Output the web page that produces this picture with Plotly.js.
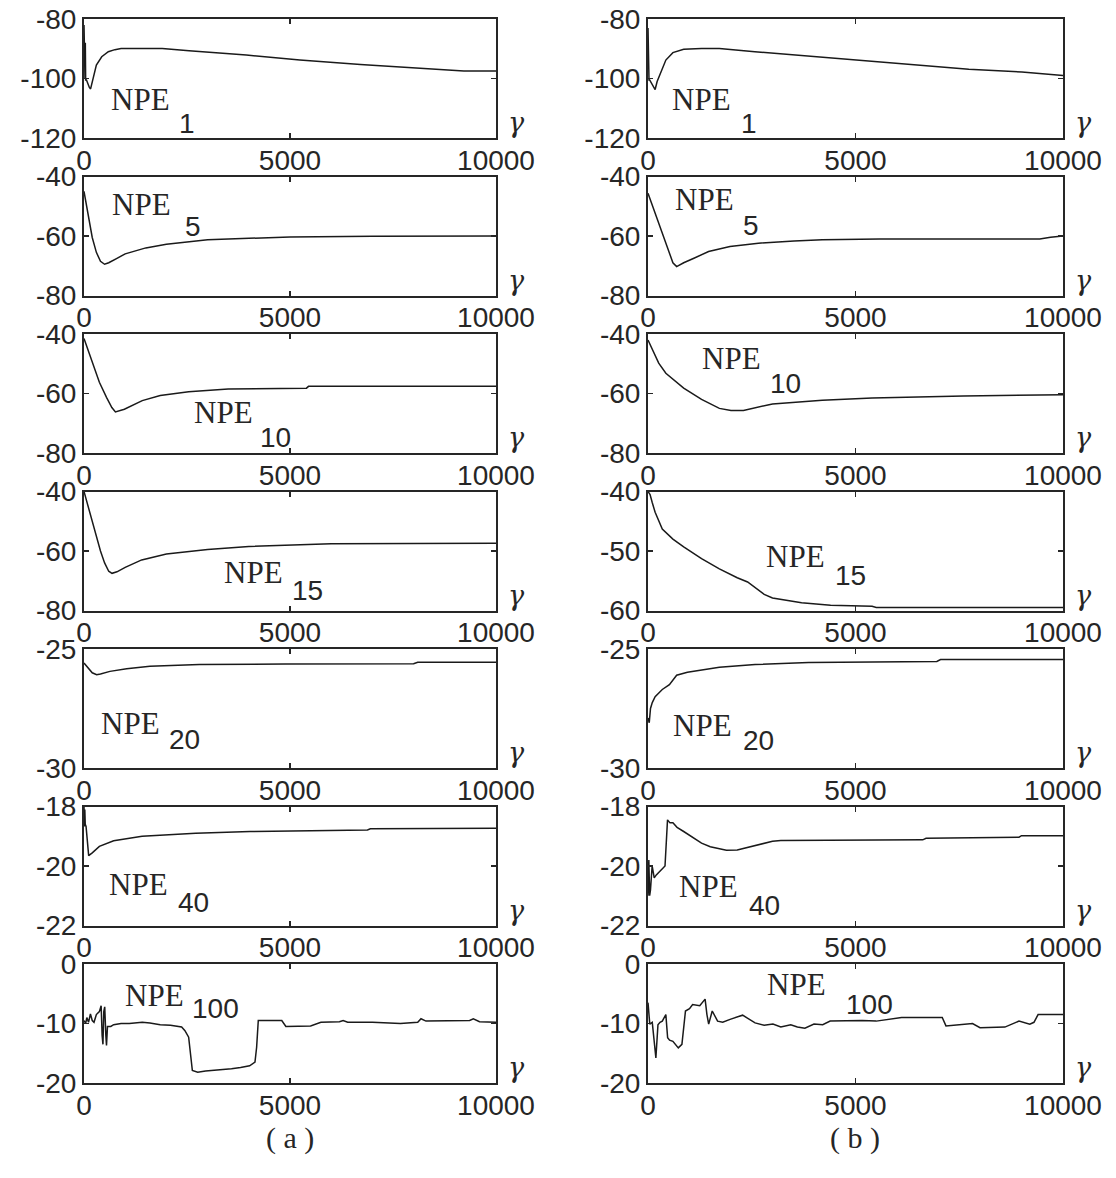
<!DOCTYPE html>
<html><head><meta charset="utf-8">
<script src="https://cdn.plot.ly/plotly-3.0.1.min.js"></script>
<style>html,body{margin:0;padding:0;background:#fff}</style>
</head><body><div id="chart" style="width:1116px;height:1178px"></div>
<script>
// ---------- data ----------
const xTicks = [0, 5000, 10000];
const xTickText = ['0', '5000', '10000'];

// column (a)
const a1x = [0, 8, 16, 24, 32, 40, 60, 100, 130, 160, 200, 230, 300, 430, 590, 750, 900, 1900, 2550, 3940, 5240, 6710, 7490, 8440, 9220, 10000];
const a1y = [-82, -100, -86, -100, -88, -100.5, -100.5, -102, -103, -103.5, -101, -99, -95.5, -92.7, -91, -90.3, -89.9, -89.9, -90.7, -92.1, -93.8, -95.3, -96, -97, -97.5, -97.5];
const a2x = [0, 50, 100, 150, 200, 300, 400, 500, 600, 800, 1000, 1500, 2000, 3000, 4000, 5000, 7000, 10000];
const a2y = [-45, -49, -53, -57, -60.5, -65.5, -68.5, -69.5, -69, -67.5, -66, -64, -62.8, -61.3, -60.7, -60.3, -60.1, -60];
const a3x = [0, 100, 200, 373, 546, 676, 763, 980, 1414, 1850, 2540, 3500, 5400, 5450, 10000];
const a3y = [-41.5, -45.5, -49.4, -56.2, -61.3, -64.7, -66.2, -65.3, -62.4, -60.7, -59.4, -58.5, -58.2, -57.6, -57.6];
const a4x = [0, 100, 200, 300, 400, 500, 600, 680, 800, 1000, 1400, 2000, 3000, 4000, 5000, 6000, 10000];
const a4y = [-40, -45, -50.5, -55.5, -60, -64, -66.8, -67.5, -67, -65.5, -63, -61, -59.5, -58.5, -58, -57.6, -57.4];
const a5x = [0, 100, 200, 307, 400, 630, 1035, 1600, 2330, 2800, 4880, 8000, 8100, 10000];
const a5y = [-25.59, -25.8, -26.0, -26.08, -26.05, -25.94, -25.83, -25.73, -25.69, -25.65, -25.63, -25.62, -25.56, -25.56];
const a6x = [0, 10, 20, 30, 50, 90, 113, 200, 373, 720, 1410, 2710, 4030, 6880, 6950, 10000];
const a6y = [-18.0, -18.67, -18.1, -18.6, -18.67, -19.4, -19.65, -19.56, -19.34, -19.15, -19.0, -18.9, -18.84, -18.79, -18.75, -18.73];
const a7x = [0, 40, 69, 110, 156, 200, 243, 300, 373, 416, 440, 460, 480, 503, 530, 546, 570, 650, 720, 900, 1100, 1414, 1600, 1850, 2100, 2370, 2450, 2540, 2630, 2760, 2950, 3150, 3350, 3580, 3800, 4020, 4150, 4190, 4230, 4500, 4800, 4900, 5200, 5500, 5750, 6200, 6290, 6400, 7000, 7680, 8100, 8180, 8300, 9000, 9360, 9450, 9600, 10000];
const a7y = [-9.5, -10, -9, -9.8, -8.4, -9.5, -9.8, -8.5, -8, -7, -12, -13.5, -8, -7.2, -12, -13.7, -10.5, -10.5, -10.2, -10.0, -10.0, -9.8, -9.9, -10.2, -10.3, -10.6, -11.2, -12.3, -17.9, -18.2, -18.0, -17.9, -17.8, -17.6, -17.4, -17.1, -16.5, -14, -9.5, -9.5, -9.5, -10.5, -10.5, -10.4, -9.8, -9.7, -9.5, -9.8, -9.8, -10, -9.8, -9.2, -9.6, -9.6, -9.5, -9.2, -9.7, -9.8];

// column (b)
const b1x = [0, 8, 16, 24, 40, 80, 130, 172, 220, 300, 430, 600, 860, 1290, 1720, 2575, 3860, 4980, 6440, 7730, 9010, 9870, 10000];
const b1y = [-83, -100.5, -84, -100.5, -100.5, -101.5, -103, -103.7, -101, -98.3, -93.8, -91.3, -90.2, -89.9, -89.9, -91, -92.5, -93.6, -95.5, -96.9, -97.8, -98.9, -99];
const b2x = [0, 172, 343, 515, 600, 690, 860, 1120, 1460, 1975, 2660, 3520, 4200, 5580, 9440, 9700, 10000];
const b2y = [-45.6, -52.3, -59, -65.7, -69, -70.3, -69, -67.4, -65.2, -63.5, -62.4, -61.7, -61.3, -61, -61, -60.4, -60];
const b3x = [0, 86, 258, 430, 860, 1290, 1720, 2000, 2300, 3000, 4200, 5400, 7600, 10000];
const b3y = [-42, -44.8, -49.8, -53.2, -58.2, -62, -65, -65.7, -65.7, -63.5, -62.3, -61.5, -60.8, -60.4];
const b4x = [0, 50, 100, 172, 344, 600, 860, 1290, 1720, 2150, 2400, 2580, 2800, 3000, 3700, 4400, 5400, 5500, 10000];
const b4y = [-40, -40.5, -41.8, -43.5, -46.3, -48, -49.3, -51.3, -53, -54.5, -55.2, -56.2, -57.3, -57.9, -58.7, -59.1, -59.3, -59.5, -59.5];
const b5x = [0, 30, 60, 103, 172, 344, 516, 690, 950, 1290, 1720, 2580, 3870, 6960, 7050, 10000];
const b5y = [-27.9, -28.1, -27.5, -27.25, -27.0, -26.7, -26.5, -26.1, -25.98, -25.88, -25.77, -25.65, -25.57, -25.52, -25.44, -25.44];
const b6x = [0, 20, 40, 60, 100, 150, 200, 340, 410, 470, 530, 600, 700, 860, 1100, 1290, 1500, 1890, 2150, 2400, 2670, 3000, 3200, 6620, 6700, 8940, 9000, 10000];
const b6y = [-21.0, -19.8, -21.0, -20.8, -20.0, -20.4, -20.3, -20.1, -20.0, -18.45, -18.55, -18.55, -18.7, -18.84, -19.05, -19.23, -19.35, -19.47, -19.46, -19.38, -19.28, -19.17, -19.14, -19.12, -19.07, -19.03, -18.98, -18.98];
const b7x = [0, 20, 43, 103, 155, 190, 240, 290, 344, 430, 473, 520, 600, 730, 817, 903, 1000, 1075, 1247, 1376, 1420, 1462, 1548, 1600, 1677, 1800, 1978, 2280, 2450, 2580, 2800, 3010, 3200, 3440, 3600, 3780, 4000, 4210, 4390, 5160, 5500, 6110, 7090, 7180, 7820, 8000, 8600, 8940, 9200, 9300, 9400, 10000];
const b7y = [-6.5, -8, -10.1, -9.8, -14.1, -15.8, -10.2, -9.8, -9.6, -8.5, -12.4, -12.8, -13, -14.1, -13.5, -7.9, -7.5, -6.8, -7, -5.9, -8.5, -10.1, -7.9, -8.5, -9.6, -9.8, -9.3, -8.6, -9.4, -9.9, -10.3, -10.1, -10.6, -10.2, -10.6, -10.8, -10.1, -10.2, -9.6, -9.5, -9.6, -9.0, -9.0, -10.4, -10.0, -10.7, -10.6, -9.6, -10.1, -9.8, -8.5, -8.5];

// y ticks per row
const yTicks1 = [-120, -100, -80], yTickText1 = ['-120', '-100', '-80'];
const yTicks2 = [-80, -60, -40], yTickText2 = ['-80', '-60', '-40'];
const yTicks15b = [-60, -50, -40], yTickText15b = ['-60', '-50', '-40'];
const yTicks20 = [-30, -25], yTickText20 = ['-30', '-25'];
const yTicks40 = [-22, -20, -18], yTickText40 = ['-22', '-20', '-18'];
const yTicks100 = [-20, -10, 0], yTickText100 = ['-20', '-10', '0'];

// subscript labels
const subsA = ['1', '5', '10', '15', '20', '40', '100'];
const subsB = ['1', '5', '10', '15', '20', '40', '100'];
const panelCaptions = ['( a )', '( b )'];

// ---------- panel description (layout only) ----------
const panels = [
  {c:0, r:0, x:a1x, y:a1y, yr:[-120,-80], yt:yTicks1, ytt:yTickText1, sub:subsA[0], L:[0.061,0.68,0.225,0.88]},
  {c:0, r:1, x:a2x, y:a2y, yr:[-80,-40], yt:yTicks2, ytt:yTickText2, sub:subsA[1], L:[0.063,0.235,0.24,0.42]},
  {c:0, r:2, x:a3x, y:a3y, yr:[-80,-40], yt:yTicks2, ytt:yTickText2, sub:subsA[2], L:[0.263,0.66,0.423,0.87]},
  {c:0, r:3, x:a4x, y:a4y, yr:[-80,-40], yt:yTicks2, ytt:yTickText2, sub:subsA[3], L:[0.335,0.68,0.5,0.83]},
  {c:0, r:4, x:a5x, y:a5y, yr:[-30,-25], yt:yTicks20, ytt:yTickText20, sub:subsA[4], L:[0.036,0.624,0.202,0.76]},
  {c:0, r:5, x:a6x, y:a6y, yr:[-22,-18], yt:yTicks40, ytt:yTickText40, sub:subsA[5], L:[0.055,0.656,0.224,0.81]},
  {c:0, r:6, x:a7x, y:a7y, yr:[-20,0], yt:yTicks100, ytt:yTickText100, sub:subsA[6], L:[0.095,0.266,0.258,0.37]},
  {c:1, r:0, x:b1x, y:b1y, yr:[-120,-80], yt:yTicks1, ytt:yTickText1, sub:subsB[0], L:[0.052,0.68,0.219,0.88]},
  {c:1, r:1, x:b2x, y:b2y, yr:[-80,-40], yt:yTicks2, ytt:yTickText2, sub:subsB[1], L:[0.06,0.196,0.224,0.41]},
  {c:1, r:2, x:b3x, y:b3y, yr:[-80,-40], yt:yTicks2, ytt:yTickText2, sub:subsB[2], L:[0.125,0.21,0.288,0.42]},
  {c:1, r:3, x:b4x, y:b4y, yr:[-60,-40], yt:yTicks15b, ytt:yTickText15b, sub:subsB[3], L:[0.279,0.546,0.445,0.71]},
  {c:1, r:4, x:b5x, y:b5y, yr:[-30,-25], yt:yTicks20, ytt:yTickText20, sub:subsB[4], L:[0.056,0.64,0.224,0.77]},
  {c:1, r:5, x:b6x, y:b6y, yr:[-22,-18], yt:yTicks40, ytt:yTickText40, sub:subsB[5], L:[0.069,0.676,0.239,0.83]},
  {c:1, r:6, x:b7x, y:b7y, yr:[-20,0], yt:yTicks100, ytt:yTickText100, sub:subsB[6], L:[0.283,0.175,0.472,0.344]}
];

const W = 1116, H = 1178;
const colX = [[84, 496], [648, 1063]];
const top0 = 19, pitch = 157.5, ph = 119;
const ink = '#262626';
const tickFont = {family: 'Liberation Sans, Arial, sans-serif', size: 28, color: ink};
const serif = 'Liberation Serif, Times New Roman, serif';

const data = [], annotations = [];
const layout = {
  width: W, height: H, margin: {l: 0, r: 0, t: 0, b: 0},
  paper_bgcolor: '#fff', plot_bgcolor: '#fff', showlegend: false,
  annotations: annotations
};

panels.forEach((p, i) => {
  const n = i + 1, sfx = n === 1 ? '' : String(n);
  const xa = 'xaxis' + sfx, ya = 'yaxis' + sfx;
  const top = top0 + p.r * pitch, bot = top + ph;
  data.push({x: p.x, y: p.y, xaxis: 'x' + sfx, yaxis: 'y' + sfx, type: 'scatter', mode: 'lines',
             line: {color: '#1a1a1a', width: 1.5}, hoverinfo: 'skip'});
  layout[xa] = {
    domain: [colX[p.c][0] / W, colX[p.c][1] / W], anchor: 'y' + sfx,
    range: [0, 10000], tickvals: xTicks, ticktext: xTickText,
    ticks: 'inside', ticklen: 5, tickwidth: 1.5, tickcolor: ink,
    showline: true, linecolor: ink, linewidth: 2, mirror: 'ticks',
    showgrid: false, zeroline: false, tickfont: tickFont, ticklabelstandoff: -4
  };
  layout[ya] = {
    domain: [1 - bot / H, 1 - top / H], anchor: 'x' + sfx,
    range: p.yr, tickvals: p.yt, ticktext: p.ytt,
    ticks: 'inside', ticklen: 5, tickwidth: 1.5, tickcolor: ink,
    showline: true, linecolor: ink, linewidth: 2, mirror: 'ticks',
    showgrid: false, zeroline: false, tickfont: tickFont, ticklabelstandoff: 0
  };
  const xr = 'x' + sfx + ' domain', yr = 'y' + sfx + ' domain';
  annotations.push({xref: xr, yref: yr, x: p.L[0], y: 1 - p.L[1], xanchor: 'left', yanchor: 'middle',
    text: 'NPE', showarrow: false, font: {family: serif, size: 31, color: ink}});
  annotations.push({xref: xr, yref: yr, x: p.L[2], y: 1 - p.L[3], xanchor: 'left', yanchor: 'middle',
    text: p.sub, showarrow: false, font: tickFont});
  annotations.push({xref: xr, yref: yr, x: 1.025, y: 0.13, xanchor: 'left', yanchor: 'middle',
    text: '<i>γ</i>', showarrow: false, font: {family: 'DejaVu Serif, serif', size: 27, color: ink}});
});

panelCaptions.forEach((t, c) => {
  annotations.push({xref: 'paper', yref: 'paper', x: (colX[c][0] + colX[c][1]) / 2 / W, y: 1 - 1138 / H,
    xanchor: 'center', yanchor: 'middle', text: t, showarrow: false,
    font: {family: serif, size: 30, color: ink}});
});

Plotly.newPlot('chart', data, layout, {staticPlot: true});
</script></body></html>
